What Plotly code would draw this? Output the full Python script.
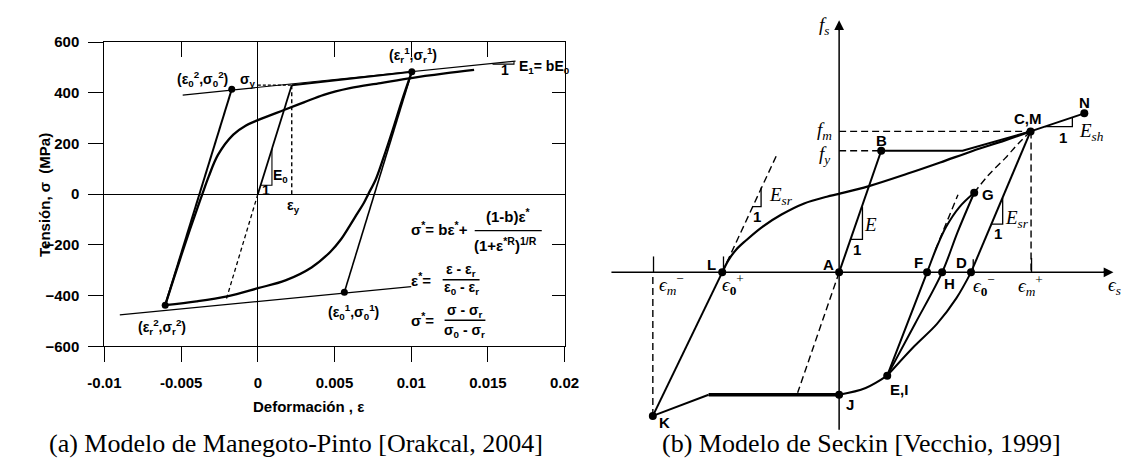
import plotly.graph_objects as go

W, H = 1134, 467

# ---------------- Panel (a): Menegotto-Pinto model (strain, stress MPa) ----------------
upper_asym_eps = [-0.0049, 0.0168]
upper_asym_sig = [391, 525]
lower_asym_eps = [-0.0090, 0.0100]
lower_asym_sig = [-476, -365]
elastic_eps = [0.0, 0.00221]
elastic_sig = [0, 430]
elastic_dash_eps = [0.0, -0.00206]
elastic_dash_sig = [0, -415]
hardening_eps = [0.00221, 0.01004]
hardening_sig = [430, 483]
unload1_eps = [0.01004, 0.00564]
unload1_sig = [483, -387]
reload2_eps = [-0.00604, -0.0017]
reload2_sig = [-438, 414]
down_eps = [0.01004, 0.0094, 0.0088, 0.0082, 0.0077, 0.0072, 0.0069, 0.0065, 0.0060,
            0.0054, 0.00475, 0.0035, 0.0018, 0.0, -0.0020, -0.0040, -0.00604]
down_sig = [483, 370, 255, 145, 60, 0, -36, -75, -124, -180, -226, -289, -340, -371,
            -403, -423, -438]
up_eps = [-0.00604, -0.00552, -0.00498, -0.00443, -0.00397, -0.00362, -0.0032, -0.0026,
          -0.0016, -0.0008, 0.0, 0.0017, 0.0030, 0.0043, 0.0060, 0.0080, 0.0100, 0.0122, 0.0141]
up_sig = [-438, -340, -240, -140, -60, 0, 70, 155, 235, 270, 292, 332, 362, 392, 418, 438,
          458, 476, 490]
yield_eps = 0.00221
yield_sig = 430
key_eps = [0.01004, -0.0017, -0.00604, 0.00564]
key_sig = [483, 414, -438, -387]
e0_tri_eps = [0.00018, 0.00092, 0.00092]
e0_tri_sig = [35, 35, 179]
e1_tri_eps = [0.0153, 0.0167, 0.0167]
e1_tri_sig = [513, 513, 522]
x_ticks = [-0.01, -0.005, 0, 0.005, 0.01, 0.015, 0.02]
x_tick_text = ["-0.01", "-0.005", "0", "0.005", "0.01", "0.015", "0.02"]
y_ticks = [-600, -400, -200, 0, 200, 400, 600]
x_ticks_top = [-0.005, 0.005, 0.01, 0.015]
y_ticks_right = [-400, -200, 200, 400]

labels_a = [
    ("(ε<sub>0</sub><sup>2</sup>,σ<sub>0</sub><sup>2</sup>)", -0.00362, 455),
    ("σ<sub>y</sub>", -0.00063, 452),
    ("(ε<sub>r</sub><sup>1</sup>,σ<sub>r</sub><sup>1</sup>)", 0.01013, 548),
    ("1", 0.0161, 490),
    ("E<sub>0</sub>", 0.00150, 72),
    ("1", 0.00052, 15),
    ("ε<sub>y</sub>", 0.00232, -48),
    ("(ε<sub>0</sub><sup>1</sup>,σ<sub>0</sub><sup>1</sup>)", 0.00623, -463),
    ("(ε<sub>r</sub><sup>2</sup>,σ<sub>r</sub><sup>2</sup>)", -0.00625, -523),
]
label_e1 = ("E<sub>1</sub>= bE<sub>0</sub>", 0.01692, 502)

# ---------------- Panel (b): Seckin schematic (normalised units) ----------------
b_pt_names = ["A", "B", "C,M", "N", "L", "K", "J", "E,I", "F", "H", "D", "G"]
b_pt_e = [0, 0.433, 1.97, 2.523, -1.203, -1.917, 0, 0.495, 0.905, 1.06, 1.357, 1.39]
b_pt_f = [0, 1.262, 1.463, 1.65, 0, -1.49, -1.27, -1.072, 0, 0, 0, 0.826]

ab_e, ab_f = [0, 0.433], [0, 1.262]
bc_e, bc_f = [0.433, 1.27, 1.97], [1.262, 1.262, 1.463]
cn_e, cn_f = [1.97, 2.523], [1.463, 1.65]
lc_e = [-1.203, -1.14, -1.06, -0.96, -0.793, -0.593, -0.36, -0.127, 0.0, 0.307, 0.707,
        1.04, 1.373, 1.707, 1.97]
lc_f = [0, 0.125, 0.235, 0.33, 0.47, 0.6, 0.715, 0.785, 0.815, 0.895, 1.025, 1.14, 1.26,
        1.37, 1.463]
lk_e, lk_f = [-1.203, -1.917], [0, -1.49]
kj_thin_e, kj_thin_f = [-1.917, -1.343], [-1.49, -1.27]
kj_thick_e, kj_thick_f = [-1.343, 0], [-1.27, -1.27]
je_e, je_f = [0, 0.273, 0.495], [-1.27, -1.2, -1.072]
efg_e = [0.495, 0.905, 1.0, 1.1, 1.24, 1.39]
efg_f = [-1.072, 0, 0.25, 0.47, 0.68, 0.826]
ehg_e = [0.495, 0.78, 1.06, 1.22, 1.39]
ehg_f = [-1.072, -0.536, 0, 0.42, 0.826]
ed_e = [0.495, 0.773, 1.007, 1.207, 1.357]
ed_f = [-1.072, -0.767, -0.534, -0.267, 0]
dc_e, dc_f = [1.357, 1.97], [0, 1.463]
cg_e = [1.97, 1.84, 1.707, 1.54, 1.39]
cg_f = [1.463, 1.333, 1.183, 1.013, 0.826]
fdash_e, fdash_f = [0.99, 1.223], [0.233, 0.806]
ldash_e, ldash_f = [-1.203, -0.643], [0, 1.216]
adash_e, adash_f = [0, -0.427], [0, -1.25]
fm_e, fm_f = [0, 1.97], [1.463, 1.463]
fy_e, fy_f = [0, 0.433], [1.262, 1.262]
emp_e, emp_f = [1.975, 1.975], [1.463, 0]
emm_e, emm_f = [-1.917, -1.917], [-1.49, 0]
tick_marks_e = [-1.19, -1.91, 1.38, 1.98]
tick_marks_f0 = [0, 0, 0.02, 0]
tick_marks_f1 = [0.165, 0.165, 0.135, 0.15]
tri_esr_l_e, tri_esr_l_f = [-0.888, -0.803, -0.803], [0.683, 0.683, 0.88]
tri_e_e, tri_e_f = [0.118, 0.24, 0.24], [0.343, 0.343, 0.68]
tri_esr_r_e, tri_esr_r_f = [1.5665, 1.683, 1.683], [0.5, 0.5, 0.778]
tri_esh_e, tri_esh_f = [2.118, 2.40, 2.40], [1.513, 1.513, 1.608]
axis_h_e, axis_h_f = [-2.343, 2.76], [0, 0]
axis_v_e, axis_v_f = [0, 0], [-1.634, 2.56]
arrow_h = (2.823, 0)
arrow_v = (0, 2.616)

bold_labels_b = [
    ("A", -0.11, 0.083), ("B", 0.433, 1.366), ("C,M", 1.94, 1.60), ("N", 2.523, 1.766),
    ("G", 1.53, 0.806), ("L", -1.31, 0.083), ("F", 0.813, 0.10), ("D", 1.257, 0.10),
    ("H", 1.14, -0.117), ("K", -1.793, -1.56), ("J", 0.107, -1.367), ("E,I", 0.62, -1.217),
    ("1", -0.843, 0.583), ("1", 0.18, 0.233), ("1", 2.307, 1.40), ("1", 1.64, 0.40),
]
italic_labels_b = [
    ("<i>f</i><sub><i>s</i></sub>", -0.16, 2.56),
    ("<i>f</i><sub><i>m</i></sub>", -0.15, 1.466),
    ("<i>f</i><sub><i>y</i></sub>", -0.15, 1.216),
    ("<i>E</i><sub><i>sr</i></sub>", -0.60, 0.79),
    ("<i>E</i>", 0.32, 0.50),
    ("<i>E</i><sub><i>sh</i></sub>", 2.60, 1.456),
    ("<i>E</i><sub><i>sr</i></sub>", 1.83, 0.55),
    ("<i>ϵ</i><sub><i>m</i></sub><sup>−</sup>", -1.73, -0.13),
    ("<i>ϵ</i><sub><b>0</b></sub><sup>+</sup>", -1.09, -0.13),
    ("<i>ϵ</i><sub><b>0</b></sub><sup>−</sup>", 1.49, -0.14),
    ("<i>ϵ</i><sub><i>m</i></sub><sup>+</sup>", 1.97, -0.14),
]
edge_label_b = ("<i>ϵ</i><sub><i>s</i></sub>", 2.745, -0.14)

caption_a = "(a) Modelo de Manegoto-Pinto [Orakcal, 2004]"
caption_b = "(b) Modelo de Seckin [Vecchio, 1999]"

# ---------------------------------------------------------------------------
fig = go.Figure()


def add_line(x, y, xa, ya, width=1.5, dash=None, shape="linear"):
    fig.add_trace(go.Scatter(
        x=x, y=y, mode="lines", xaxis=xa, yaxis=ya, hoverinfo="skip", showlegend=False,
        line=dict(color="black", width=width, dash=dash, shape=shape)))


# Panel (a)
add_line(upper_asym_eps, upper_asym_sig, "x", "y", 1.2)
add_line(lower_asym_eps, lower_asym_sig, "x", "y", 1.2)
add_line(elastic_eps, elastic_sig, "x", "y", 1.8)
add_line(elastic_dash_eps, elastic_dash_sig, "x", "y", 1.3, "4px,3px")
add_line(hardening_eps, hardening_sig, "x", "y", 2.0)
add_line(unload1_eps, unload1_sig, "x", "y", 1.6)
add_line(reload2_eps, reload2_sig, "x", "y", 2.0)
add_line(down_eps, down_sig, "x", "y", 2.3, shape="spline")
add_line(up_eps, up_sig, "x", "y", 2.3, shape="spline")
add_line([0, yield_eps], [yield_sig, yield_sig], "x", "y", 1.3, "3px,2px")
add_line([yield_eps, yield_eps], [yield_sig, 0], "x", "y", 1.4, "4px,3px")
add_line(e0_tri_eps, e0_tri_sig, "x", "y", 1.1)
add_line(e1_tri_eps, e1_tri_sig, "x", "y", 1.1)
fig.add_trace(go.Scatter(x=key_eps, y=key_sig, mode="markers", xaxis="x", yaxis="y",
                         marker=dict(color="black", size=7), hoverinfo="skip", showlegend=False))
fig.add_trace(go.Scatter(x=[None], y=[None], xaxis="x3", yaxis="y3", showlegend=False))

# Panel (b)
add_line(axis_h_e, axis_h_f, "x2", "y2", 1.5)
add_line(axis_v_e, axis_v_f, "x2", "y2", 1.5)
for e, f0, f1 in zip(tick_marks_e, tick_marks_f0, tick_marks_f1):
    add_line([e, e], [f0, f1], "x2", "y2", 1.3)
for xs, ys in [(fm_e, fm_f), (fy_e, fy_f), (emp_e, emp_f), (emm_e, emm_f),
               (ldash_e, ldash_f), (adash_e, adash_f), (fdash_e, fdash_f)]:
    add_line(xs, ys, "x2", "y2", 1.4, "7px,4px")
add_line(cg_e, cg_f, "x2", "y2", 1.4, "7px,4px", "spline")
add_line(ab_e, ab_f, "x2", "y2", 2.0)
add_line(bc_e, bc_f, "x2", "y2", 2.0)
add_line(cn_e, cn_f, "x2", "y2", 2.0)
add_line(lc_e, lc_f, "x2", "y2", 2.2, shape="spline")
add_line(lk_e, lk_f, "x2", "y2", 2.0)
add_line(kj_thin_e, kj_thin_f, "x2", "y2", 2.0)
add_line(kj_thick_e, kj_thick_f, "x2", "y2", 3.5)
add_line(je_e, je_f, "x2", "y2", 2.0, shape="spline")
add_line(efg_e, efg_f, "x2", "y2", 2.0, shape="spline")
add_line(ehg_e, ehg_f, "x2", "y2", 2.0, shape="spline")
add_line(ed_e, ed_f, "x2", "y2", 2.0, shape="spline")
add_line(dc_e, dc_f, "x2", "y2", 2.0)
for xs, ys in [(tri_esr_l_e, tri_esr_l_f), (tri_e_e, tri_e_f),
               (tri_esr_r_e, tri_esr_r_f), (tri_esh_e, tri_esh_f)]:
    add_line(xs, ys, "x2", "y2", 1.3)
fig.add_trace(go.Scatter(x=b_pt_e, y=b_pt_f, mode="markers", xaxis="x2", yaxis="y2",
                         marker=dict(color="black", size=8), hoverinfo="skip", showlegend=False))

# ---------------------------------------------------------------------------
SANS = "Liberation Sans, Arial, sans-serif"
SERIF = "Liberation Serif, Times New Roman, serif"
ann = []
for txt, x, y in labels_a:
    ann.append(dict(text=txt, x=x, y=y, xref="x", yref="y", showarrow=False,
                    font=dict(family=SANS, size=14, color="black", weight="bold")))
ann.append(dict(text=label_e1[0], x=label_e1[1], y=label_e1[2], xref="x", yref="y",
                xanchor="left", showarrow=False,
                font=dict(family=SANS, size=14, color="black", weight="bold")))


def px_ann(txt, px, py, size=14, xanchor="center", family=SANS, weight="bold"):
    ann.append(dict(text=txt, x=px / W, y=1 - py / H, xref="paper", yref="paper",
                    xanchor=xanchor, yanchor="middle", showarrow=False,
                    font=dict(family=family, size=size, color="black", weight=weight)))


# equations (panel a)
px_ann("σ<sup>*</sup>= bε<sup>*</sup>+", 403, 228, 15, "left")
px_ann("(1-b)ε<sup>*</sup>", 506, 214, 15)
px_ann("(1+ε<sup>*R</sup>)<sup>1/R</sup>", 503, 244, 15)
px_ann("ε<sup>*</sup>=", 403, 281, 15, "left")
px_ann("ε - ε<sub>r</sub>", 457, 271, 14)
px_ann("ε<sub>0</sub> - ε<sub>r</sub>", 457, 290, 14)
px_ann("σ<sup>*</sup>=", 403, 322, 15, "left")
px_ann("σ - σ<sub>r</sub>", 461, 313, 14)
px_ann("σ<sub>0</sub> - σ<sub>r</sub>", 461, 334, 14)
shapes = []
for x0, x1, yy in [(471, 540, 230), (438, 476, 281), (440, 482, 323)]:
    shapes.append(dict(type="line", xref="paper", yref="paper", x0=x0 / W, x1=x1 / W,
                       y0=1 - yy / H, y1=1 - yy / H, line=dict(color="black", width=1.3)))

# axis titles (panel a)
ann.append(dict(text="Tensión, σ  (MPa)", x=18 / W, y=1 - 193 / H, xref="paper", yref="paper",
                textangle=-90, showarrow=False,
                font=dict(family=SANS, size=15, color="black", weight="bold")))
px_ann("Deformación , ε", 300, 412, 15)

# panel (b) labels
for txt, x, y in bold_labels_b:
    ann.append(dict(text=txt, x=x, y=y, xref="x2", yref="y2", showarrow=False,
                    font=dict(family=SANS, size=15, color="black", weight="bold")))
for txt, x, y in italic_labels_b:
    ann.append(dict(text=txt, x=x, y=y, xref="x2", yref="y2", showarrow=False,
                    font=dict(family=SERIF, size=19, color="black")))
ann.append(dict(text=edge_label_b[0], x=edge_label_b[1], y=edge_label_b[2], xref="x2",
                yref="y2", xanchor="left", showarrow=False,
                font=dict(family=SERIF, size=19, color="black")))
for tip, tail in [(arrow_h, (arrow_h[0] - 0.12, arrow_h[1])),
                  (arrow_v, (arrow_v[0], arrow_v[1] - 0.12))]:
    ann.append(dict(x=tip[0], y=tip[1], ax=tail[0], ay=tail[1], xref="x2", yref="y2",
                    axref="x2", ayref="y2", showarrow=True, arrowhead=2, arrowsize=1.3,
                    arrowwidth=1.5, arrowcolor="black", text=""))

# captions
px_ann(caption_a, 287, 451, 26, family=SERIF, weight="normal")
px_ann(caption_b, 869, 451, 26, family=SERIF, weight="normal")

tickfont = dict(family=SANS, size=15, color="black", weight="bold")
xa_dom = [90 / W, 563.5 / W]
ya_dom = [1 - 350 / H, 1 - 34.3 / H]

fig.update_layout(
    width=W, height=H, margin=dict(l=0, r=0, t=0, b=0),
    paper_bgcolor="white", plot_bgcolor="white", showlegend=False,
    xaxis=dict(domain=xa_dom, range=[-0.01, 0.02], tickvals=x_ticks, ticktext=x_tick_text,
               ticks="outside", ticklen=15, tickwidth=1.2, tickcolor="black",
               showline=True, linecolor="black", linewidth=1.4, mirror=True,
               showgrid=False, zeroline=True, zerolinecolor="black", zerolinewidth=1,
               tickfont=tickfont, ticklabelstandoff=8, anchor="y"),
    yaxis=dict(domain=ya_dom, range=[-600, 600], tickvals=y_ticks,
               ticks="outside", ticklen=15, tickwidth=1.2, tickcolor="black",
               showline=True, linecolor="black", linewidth=1.4, mirror=True,
               showgrid=False, zeroline=True, zerolinecolor="black", zerolinewidth=1,
               tickfont=tickfont, ticklabelstandoff=6, anchor="x"),
    xaxis3=dict(overlaying="x", side="top", anchor="y", range=[-0.01, 0.02],
                tickvals=x_ticks_top, ticks="inside", ticklen=15, tickwidth=1.2,
                tickcolor="black", showticklabels=False, showgrid=False, zeroline=False,
                showline=False),
    yaxis3=dict(overlaying="y", side="right", anchor="x", range=[-600, 600],
                tickvals=y_ticks_right, ticks="inside", ticklen=13, tickwidth=1.2,
                tickcolor="black", showticklabels=False, showgrid=False, zeroline=False,
                showline=False),
    xaxis2=dict(domain=[600 / W, 1.0], range=[-2.46, 2.88], visible=False, anchor="y2"),
    yaxis2=dict(domain=[0, 1], range=[-1.937, 2.733], visible=False, anchor="x2"),
    annotations=ann, shapes=shapes,
)

fig.write_html("out.html")
